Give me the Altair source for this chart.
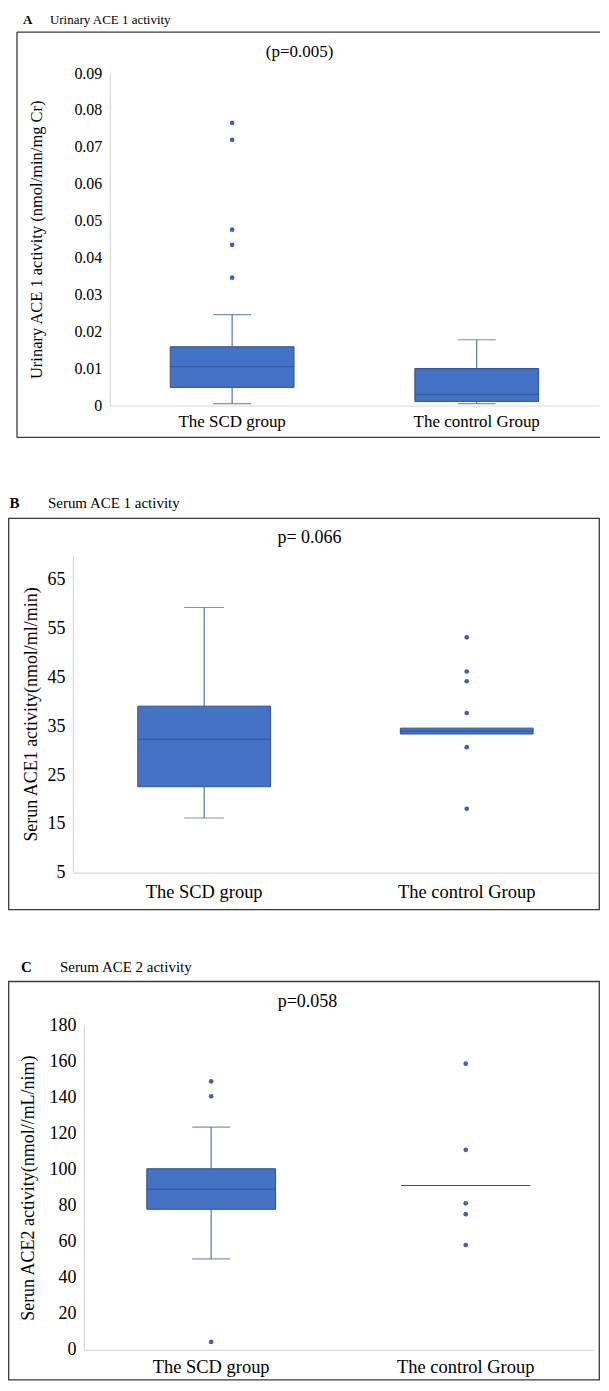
import altair as alt
import pandas as pd

FONT = "Liberation Serif"
BOX = "#4472C4"
EDGE = "#2F528F"
WHISK = "#4A6896"
DOT = "#3C62B0"
AXC = "#D9D9D9"
FRAME = "#3A3A3A"

groups = ["The SCD group", "The control Group"]

# Panel A: Urinary ACE 1 activity
a_low = [0.0005, 0.0005]
a_q1 = [0.0049, 0.0011]
a_med = [0.0105, 0.0030]
a_q3 = [0.0159, 0.0100]
a_high = [0.0246, 0.0178]
a_out_scd = [0.0346, 0.0435, 0.0476, 0.0719, 0.0765]
a_out_ctrl = []
a_ticks = [0, 0.01, 0.02, 0.03, 0.04, 0.05, 0.06, 0.07, 0.08, 0.09]

# Panel B: Serum ACE 1 activity
b_low = [16.2, 33.4]
b_q1 = [22.6, 33.4]
b_med = [32.3, 34.0]
b_q3 = [39.1, 34.6]
b_high = [59.3, 34.6]
b_out_scd = []
b_out_ctrl = [18.1, 30.7, 37.7, 44.2, 46.2, 53.2]
b_ticks = [5, 15, 25, 35, 45, 55, 65]

# Panel C: Serum ACE 2 activity
c_low = [50.5, 91.2]
c_q1 = [78.0, 91.2]
c_med = [89.0, 91.2]
c_q3 = [100.5, 91.2]
c_high = [123.6, 91.2]
c_out_scd = [4.4, 140.7, 149.0]
c_out_ctrl = [58.2, 75.3, 81.3, 111.0, 158.8]
c_ticks = [0, 20, 40, 60, 80, 100, 120, 140, 160, 180]

PAGE_L = 8      # left edge of every panel (page px)
PAGE_R = 601    # right edge of every panel
PW = PAGE_R - PAGE_L

specs = [
    dict(letter="A", heading="Urinary  ACE 1 activity", ptext="(p=0.005)",
         ytitle="Urinary ACE 1 activity (nmol/min/mg Cr)",
         low=a_low, q1=a_q1, med=a_med, q3=a_q3, high=a_high,
         out=[a_out_scd, a_out_ctrl], ticks=a_ticks, domain=[0, 0.09],
         labelexpr="datum.value == 0 ? '0' : format(datum.value, '.2f')",
         L=110, T=72, W=490, H=333, ext=(8, 490), frame=(17, 31, 601, 437), open_right=True,
         bw=124, cw=38, lfs=16, xfs=17, tfs=16.5, titleX=37, xlp=8,
         hx=(23, 50), hy=19, hfs=13, px=300, py=51, pfs=17),
    dict(letter="B", heading="Serum ACE 1 activity", ptext="p= 0.066",
         ytitle="Serun ACE1 activity(nmol/ml/min)",
         low=b_low, q1=b_q1, med=b_med, q3=b_q3, high=b_high,
         out=[b_out_scd, b_out_ctrl], ticks=b_ticks, domain=[5, 70],
         labelexpr="format(datum.value, 'd')",
         L=73, T=555, W=526, H=318, ext=(490, 955), frame=(8.7, 518, 600.3, 910), open_right=False,
         bw=133, cw=40, lfs=18, xfs=18.5, tfs=18, titleX=32, xlp=10,
         hx=(9.5, 48), hy=503, hfs=15, px=310, py=538, pfs=18),
    dict(letter="C", heading="Serum ACE 2 activity", ptext="p=0.058",
         ytitle="Serun ACE2 activity(nmol//mL/nim)",
         low=c_low, q1=c_q1, med=c_med, q3=c_q3, high=c_high,
         out=[c_out_scd, c_out_ctrl], ticks=c_ticks, domain=[0, 180],
         labelexpr="format(datum.value, 'd')",
         L=84, T=1026, W=510, H=325, ext=(955, 1382), frame=(8.7, 982, 600.3, 1381), open_right=False,
         bw=129, cw=38, lfs=18, xfs=18.5, tfs=18, titleX=28.5, xlp=8,
         hx=(21, 60), hy=967, hfs=15, px=308, py=1003, pfs=18),
]


def panel(s):
    L, T, W, H = s["L"], s["T"], s["W"], s["H"]

    def rx(p):
        return p - PAGE_L

    def ry(p):
        return p - T

    stats = pd.DataFrame({"group": groups, "low": s["low"], "q1": s["q1"],
                          "med": s["med"], "q3": s["q3"], "high": s["high"]})
    lower = stats[stats["low"] < stats["q1"]]
    upper = stats[stats["high"] > stats["q3"]]
    outl = pd.DataFrame({"group": [g for g, vals in zip(groups, s["out"]) for _ in vals],
                         "value": [v for vals in s["out"] for v in vals]})

    xaxis = alt.Axis(labelFont=FONT, labelFontSize=s["xfs"], labelColor="black",
                     labelAngle=0, labelPadding=s["xlp"], ticks=False, tickSize=0,
                     domainColor=AXC, domainWidth=1.2, grid=False, title=None)
    yaxis = alt.Axis(values=s["ticks"], labelExpr=s["labelexpr"], labelFont=FONT,
                     labelFontSize=s["lfs"], labelColor="black", labelPadding=8,
                     ticks=False, tickSize=0, domainColor=AXC, domainWidth=1.2, grid=False,
                     offset=-(L - PAGE_L),
                     titleFont=FONT, titleFontSize=s["tfs"], titleFontWeight="normal",
                     titleColor="black", titleX=s["titleX"] - L, titleY=H / 2,
                     titleBaseline="middle", titleAlign="center")
    xenc = alt.X("group:N",
                 scale=alt.Scale(domain=groups, range=[L - PAGE_L, L - PAGE_L + W],
                                 paddingInner=0, paddingOuter=0),
                 axis=xaxis, title=None)
    ysc = alt.Scale(domain=s["domain"], nice=False, zero=False)

    def Y(field):
        return alt.Y(field, type="quantitative", scale=ysc, axis=yaxis, title=s["ytitle"])

    d0 = pd.DataFrame({"d": [0]})
    layers = []
    # invisible extent that fixes the panel's bounds
    layers.append(alt.Chart(d0).mark_rect(opacity=0).encode(
        x=alt.value(0), x2=alt.value(PW),
        y=alt.value(ry(s["ext"][0])), y2=alt.value(ry(s["ext"][1]))))
    fx0, fy0, fx1, fy1 = s["frame"]
    if s["open_right"]:
        for yy in (fy0, fy1):
            layers.append(alt.Chart(d0).mark_rule(color=FRAME, strokeWidth=1.3).encode(
                x=alt.value(rx(fx0)), x2=alt.value(rx(fx1)), y=alt.value(ry(yy))))
        layers.append(alt.Chart(d0).mark_rule(color=FRAME, strokeWidth=1.3).encode(
            x=alt.value(rx(fx0)), y=alt.value(ry(fy0)), y2=alt.value(ry(fy1))))
    else:
        layers.append(alt.Chart(d0).mark_rect(fillOpacity=0, stroke=FRAME, strokeWidth=1.3).encode(
            x=alt.value(rx(fx0)), x2=alt.value(rx(fx1)),
            y=alt.value(ry(fy0)), y2=alt.value(ry(fy1))))
    # headings and p-value
    layers.append(alt.Chart(d0).mark_text(align="left", baseline="middle", font=FONT,
                                          fontSize=s["hfs"], fontWeight="bold", color="black").encode(
        x=alt.value(rx(s["hx"][0])), y=alt.value(ry(s["hy"])), text=alt.value(s["letter"])))
    layers.append(alt.Chart(d0).mark_text(align="left", baseline="middle", font=FONT,
                                          fontSize=s["hfs"], color="black").encode(
        x=alt.value(rx(s["hx"][1])), y=alt.value(ry(s["hy"])), text=alt.value(s["heading"])))
    layers.append(alt.Chart(d0).mark_text(align="center", baseline="middle", font=FONT,
                                          fontSize=s["pfs"], color="black").encode(
        x=alt.value(rx(s["px"])), y=alt.value(ry(s["py"])), text=alt.value(s["ptext"])))

    # box plot pieces
    base = alt.Chart(stats)
    layers.append(alt.Chart(lower).mark_rule(color=WHISK, strokeWidth=1.1).encode(
        x=xenc, y=Y("low"), y2="q1"))
    layers.append(alt.Chart(upper).mark_rule(color=WHISK, strokeWidth=1.1).encode(
        x=xenc, y=Y("q3"), y2="high"))
    layers.append(alt.Chart(lower).mark_tick(size=s["cw"], thickness=1.1, color=WHISK).encode(
        x=xenc, y=Y("low")))
    layers.append(alt.Chart(upper).mark_tick(size=s["cw"], thickness=1.1, color=WHISK).encode(
        x=xenc, y=Y("high")))
    layers.append(base.mark_bar(size=s["bw"], color=BOX, stroke=EDGE, strokeWidth=1).encode(
        x=xenc, y=Y("q1"), y2="q3"))
    layers.append(base.mark_tick(size=s["bw"], thickness=1.2, color=EDGE).encode(
        x=xenc, y=Y("med")))
    layers.append(alt.Chart(outl).mark_circle(size=22, color=DOT, opacity=1).encode(
        x=xenc, y=Y("value")))

    return alt.layer(*layers).properties(width=PW, height=H)


chart = alt.vconcat(*[panel(s) for s in specs], spacing=0).properties(
    padding={"left": 0, "top": 0, "right": 0, "bottom": 0}
).configure_view(stroke=None)

chart.save("out.html", embed_options={"renderer": "svg", "actions": False})
